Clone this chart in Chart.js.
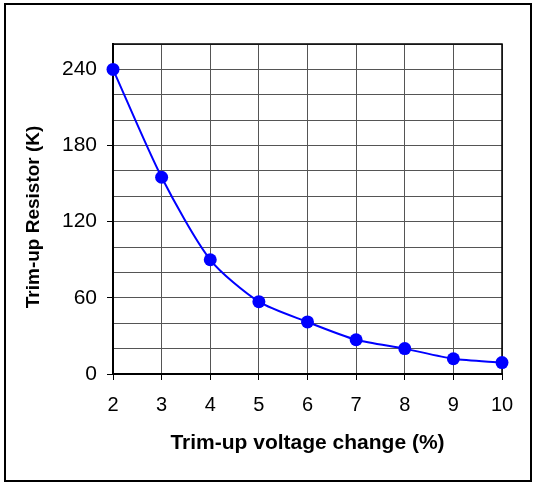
<!DOCTYPE html>
<html>
<head>
<meta charset="utf-8">
<script src="https://cdn.jsdelivr.net/npm/chart.js@4"></script>
<style>
  html, body { margin: 0; padding: 0; background: #fff; }
  #wrap { position: relative; width: 533px; height: 482px; overflow: hidden; }
  #chart { position: absolute; left: 0; top: 0; }
  #frame {
    position: absolute; left: 4px; top: 3px; width: 524px; height: 475px;
    border: 2px solid #000; pointer-events: none;
  }
</style>
</head>
<body>
<div id="wrap">
  <canvas id="chart" width="533" height="482"></canvas>
  <div id="frame"></div>
</div>
<script>
// values
const voltageChange = [2, 3, 4, 5, 6, 7, 8, 9, 10];
const trimUpResistor = [240, 155, 90, 57, 41, 27, 20, 12, 9];
const yLabels = [0, 60, 120, 180, 240];

const fontFamily = "'Liberation Sans', Arial, sans-serif";

// black outline round the plot area (Excel style)
const plotBorder = {
    id: 'plotBorder',
    beforeDatasetsDraw(chart) {
        const { ctx, chartArea: a } = chart;
        ctx.save();
        ctx.strokeStyle = '#000';
        ctx.lineWidth = 1.5;
        ctx.strokeRect(a.left, a.top, a.right - a.left, a.bottom - a.top);
        ctx.restore();
    }
};

document.addEventListener('DOMContentLoaded', function() {
    const ctx = document.getElementById('chart').getContext('2d');

    const chart = new Chart(ctx, {
        type: 'line',
        data: {
            datasets: [{
                label: 'Trim-up Resistor',
                data: voltageChange.map((v, i) => ({ x: v, y: trimUpResistor[i] })),
                borderColor: '#0000ff',
                backgroundColor: '#0000ff',
                borderWidth: 2,
                pointRadius: 6.5,
                pointHoverRadius: 6.5,
                pointBorderWidth: 0,
                tension: 0.25,
                clip: false,
                fill: false
            }]
        },
        options: {
            responsive: false,
            animation: false,
            layout: { padding: { left: 0, right: 31, top: 44, bottom: 0 } },
            plugins: {
                legend: { display: false },
                tooltip: { enabled: false }
            },
            scales: {
                x: {
                    type: 'linear',
                    min: 2,
                    max: 10,
                    afterFit: function(scale) { scale.height = 108; },
                    ticks: {
                        stepSize: 1,
                        autoSkip: false,
                        maxRotation: 0,
                        color: '#000',
                        padding: 13,
                        font: { family: fontFamily, size: 20 }
                    },
                    grid: {
                        color: '#555',
                        lineWidth: 1,
                        tickLength: 6,
                        tickColor: '#000'
                    },
                    border: { color: '#000', width: 2 },
                    title: {
                        display: true,
                        text: 'Trim-up voltage change (%)',
                        color: '#000',
                        padding: { top: 0, bottom: 26 },
                        font: { family: fontFamily, size: 21, weight: 'bold' }
                    }
                },
                y: {
                    min: 0,
                    max: 260,
                    afterFit: function(scale) { scale.width = 113; },
                    ticks: {
                        stepSize: 20,
                        autoSkip: false,
                        color: '#000',
                        padding: 10,
                        font: { family: fontFamily, size: 21 },
                        callback: v => yLabels.includes(v) ? String(v) : ''
                    },
                    grid: {
                        color: '#555',
                        lineWidth: 1,
                        tickLength: 6,
                        tickColor: c => yLabels.includes(c.tick.value) ? '#000' : 'rgba(0,0,0,0)'
                    },
                    border: { color: '#000', width: 2 },
                    title: {
                        display: true,
                        text: 'Trim-up Resistor (K)   ',
                        color: '#000',
                        padding: { top: 22, bottom: 0 },
                        font: { family: fontFamily, size: 19, weight: 'bold' }
                    }
                }
            }
        },
        plugins: [plotBorder]
    });
});
</script>
</body>
</html>
